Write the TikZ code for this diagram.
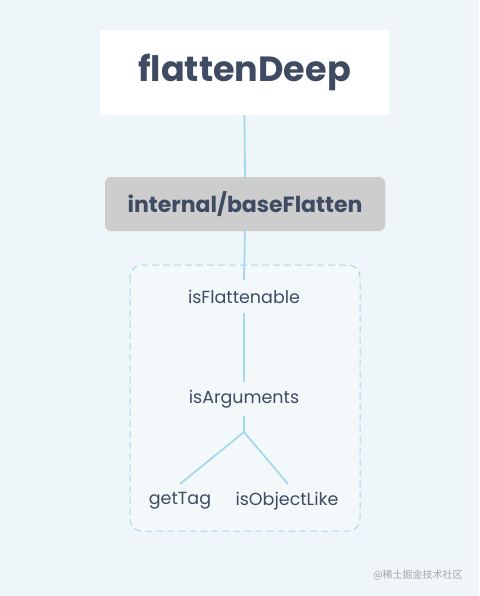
\documentclass[tikz,border=0pt]{standalone}
\usepackage{fontspec}
\setmainfont{Poppins}
\newfontfamily\cjkfont{Noto Sans CJK SC}
\usetikzlibrary{positioning}
\definecolor{bgblue}{HTML}{EEF6F9}
\definecolor{inkblue}{HTML}{3E4B63}
\definecolor{linkblue}{HTML}{A6D8EC}
\definecolor{boxgray}{HTML}{CDCDCD}
\tikzset{
  rootbox/.style={rectangle, fill=white, text=inkblue, font=\fontsize{35}{40}\selectfont\bfseries, minimum width=289pt, minimum height=85pt},
  basebox/.style={rectangle, rounded corners=6pt, fill=boxgray, text=inkblue, font=\fontsize{22}{26}\selectfont\bfseries, minimum width=280pt, minimum height=54pt},
  leaf/.style={text=inkblue, font=\fontsize{17.5}{20}\selectfont, inner sep=2pt},
  group/.style={draw=linkblue, line width=1pt, dash pattern=on 7pt off 4pt, rounded corners=12pt, fill=bgblue!70!white},
  link/.style={draw=linkblue, line width=1.8pt}
}
\begin{document}
\begin{tikzpicture}[x=1pt, y=-1pt]
\useasboundingbox[fill=bgblue] (0,0) rectangle (479,596);
\node[rootbox] (flat) at (244.5,72.5) {flattenDeep};
\node[basebox] (base) at (245,204) {internal/baseFlatten};
\draw[group] (130,265) rectangle (360,531);
\node[leaf] (isflat) at (244,297) {isFlattenable};
\node[leaf] (isargs) at (244,399) {isArguments};
\node[leaf] (gettag) at (180,501) {getTag};
\node[leaf] (isobj) at (287,501) {isObjectLike};
\coordinate (fork) at (244,432);

\draw[link] (flat.south) -- (base.north);
\draw[link] (base.south) -- (244,280);
\draw[link] (244,313) -- (244,382);
\draw[link] (244,416) -- (fork);
\draw[link] (fork) -- (180,484);
\draw[link] (fork) -- (288,484);
\node[text=black!35, font=\cjkfont\fontsize{10}{12}\selectfont] (mark) at (418,575) {@稀土掘金技术社区};
\end{tikzpicture}
\end{document}
